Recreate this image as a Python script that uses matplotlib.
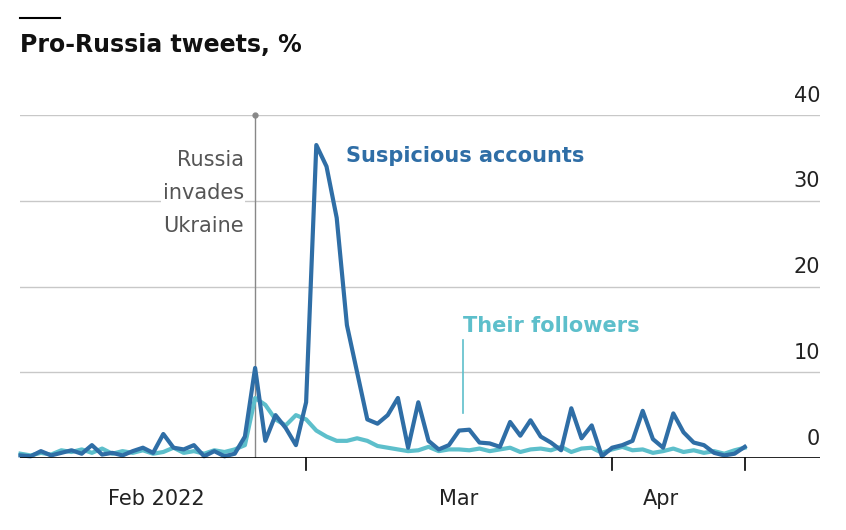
import matplotlib.pyplot as plt
import numpy as np

# day 0 = 1 Feb 2022
suspicious = [0.3,0.2,0.8,0.3,0.6,0.9,0.5,1.5,0.4,0.6,0.3,0.8,1.2,0.6,2.8,1.2,1.0,1.5,0.2,0.8,0.2,0.5,2.5,10.5,
              2.0,5.0,3.5,1.5,6.5,36.5,34.0,28.0,15.5,10.0,4.5,4.0,5.0,7.0,1.2,6.5,2.0,1.0,1.5,3.2,3.3,1.8,1.7,1.3,
              4.2,2.6,4.4,2.5,1.8,0.9,5.8,2.3,3.8,0.2,1.2,1.5,2.0,5.5,2.2,1.2,5.2,3.0,1.8,1.5,0.6,0.3,0.5,1.3]
followers = [0.5,0.3,0.6,0.4,0.9,0.7,1.0,0.6,1.1,0.5,0.8,0.6,0.9,0.5,0.7,1.2,0.6,0.8,0.5,0.9,0.7,1.0,1.5,7.0,
             6.2,4.5,3.8,5.0,4.5,3.2,2.5,2.0,2.0,2.3,2.0,1.4,1.2,1.0,0.8,0.9,1.3,0.8,1.0,1.0,0.9,1.1,0.8,1.0,
             1.2,0.7,1.0,1.1,0.9,1.3,0.7,1.1,1.2,0.6,1.0,1.3,0.9,1.0,0.6,0.8,1.1,0.7,0.9,0.6,0.8,0.5,0.9,1.2]
days = np.arange(len(suspicious))
yticks = [0, 10, 20, 30, 40]
month_ticks = [28, 58, 71]
month_labels = [("Feb 2022", 13.3), ("Mar", 43), ("Apr", 62.8)]

blue = "#2f6ea6"; teal = "#5dbfcb"
fig = plt.figure(figsize=(8.46, 5.3), dpi=100)
W, H = 846, 530
ax = fig.add_axes([20/W, 72/H, 800/W, 343/H])
px = 10.2
ax.set_xlim(-0.05, 800/px - 0.05)
ax.set_ylim(0, 40)
for s in ax.spines.values():
    s.set_visible(False)
ax.set_yticks([]); ax.set_xticks([])
for y in yticks[1:]:
    ax.axhline(y, color="#c8c8c8", lw=1, zorder=0)
ax.axhline(0, color="black", lw=1.2, zorder=4)
for y in yticks:
    ax.text(1.0, y + 1.1, str(y), transform=ax.get_yaxis_transform(), ha="right", va="bottom",
            fontsize=15, color="#222222")
for t in month_ticks:
    ax.plot([t, t], [0, -1.4], color="black", lw=1.2, clip_on=False)
for lab, x in month_labels:
    ax.text(x, -3.6, lab, ha="center", va="top", fontsize=15, color="#222222")
ax.plot(days, followers, color=teal, lw=3, zorder=3, clip_on=False)
ax.plot(days, suspicious, color=blue, lw=3, zorder=3, clip_on=False)
# invasion marker
ax.plot([23, 23], [0, 40], color="#888888", lw=1, zorder=2)
ax.plot([23], [40], 'o', color="#888888", ms=3.5, clip_on=False)
for i, line in enumerate(["Russia", "invades", "Ukraine"]):
    ax.text(21.9, 34.8 - i*3.9, line, ha="right", va="center", fontsize=15, color="#555555",
            bbox=dict(facecolor="white", edgecolor="none", pad=1))
ax.text(31.9, 35.2, "Suspicious accounts", color=blue, fontsize=15, fontweight="bold", va="center")
ax.text(43.4, 15.4, "Their followers", color=teal, fontsize=15, fontweight="bold", va="center")
ax.plot([43.4, 43.4], [13.8, 5.2], color=teal, lw=1.2)
fig.text(20/W, 1 - 45/H, "Pro-Russia tweets, %", fontsize=17, fontweight="bold", va="center", color="#111111")
fig.add_artist(plt.Line2D([20/W, 60/W], [1 - 18/H]*2, color="black", lw=1.5))
fig.savefig("out.png", dpi=100)
